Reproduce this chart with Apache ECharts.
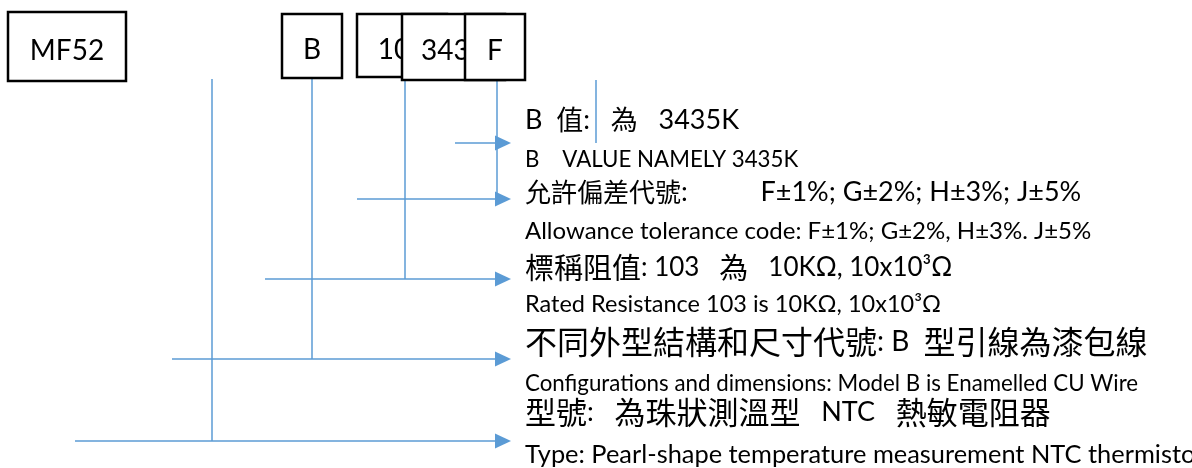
<!DOCTYPE html>
<html>
<head>
<meta charset="utf-8">
<title>MF52 NTC part number</title>
<script src="https://cdn.jsdelivr.net/npm/echarts@6/dist/echarts.min.js"></script>
<style>
  html, body { margin: 0; padding: 0; background: #fff; }
  #main { width: 1192px; height: 468px; }
</style>
</head>
<body>
<div id="main"></div>
<script>
// code boxes along the top (diagram units = axis units)
const boxLabels = ['MF52', 'B', '103', '3435', 'F'];
const boxLeft = [8, 282, 357, 402, 465];
const boxRight = [126, 342, 447, 505, 525];
const boxTop = [12, 14, 14, 14, 14];
const boxBottom = [81, 78, 77, 80, 80];

// vertical leaders dropping from the boxes
const leaderX = [212, 312, 405, 497, 596];
const leaderTop = [79, 78, 80, 80, 80];
const leaderBottom = [441, 359, 279, 199, 143];

// horizontal arrows pointing at the descriptions
const arrowY = [143, 199, 279, 359, 441];
const arrowStart = [455, 357, 265, 172, 75];
const arrowEnd = [511, 511, 511, 511, 511];

// description rows
const rowText = [
  'B  值:   為   3435K',
  'B    VALUE NAMELY 3435K',
  '允許偏差代號:　　   F±1%; G±2%; H±3%; J±5%',
  'Allowance tolerance code: F±1%; G±2%, H±3%. J±5%',
  '標稱阻值: 103   為   10KΩ, 10x10³Ω',
  'Rated Resistance 103 is 10KΩ, 10x10³Ω',
  '不同外型結構和尺寸代號: B  型引線為漆包線',
  'Configurations and dimensions: Model B is Enamelled CU Wire',
  '型號:   為珠狀測溫型   NTC   熱敏電阻器',
  'Type: Pearl-shape temperature measurement NTC thermistor'
];
const rowY = [120, 160, 192, 231, 268, 304, 342, 384, 412, 455];
const rowCjkSize = [27, 22.3, 26, 24, 29, 23.5, 32, 22.3, 31, 25.4];
const rowLatinSize = [27, 22.3, 27, 24, 26, 23.5, 28, 22.3, 27, 25.4];
const rowX = 525;

const BLUE = '#5b9bd5';
const LATIN = 'Lato, "Noto Sans", sans-serif';
const CJK = '"Noto Sans CJK TC", "Noto Sans CJK SC", sans-serif';
const CJK_RE = /[\u3000-\u303f\u3400-\u9fff\uff00-\uffef]/;

// wrap runs of CJK / latin characters into rich text tokens
function toRich(str) {
  let out = '', run = '', kind = null;
  for (const ch of str) {
    const k = CJK_RE.test(ch) ? 'c' : 'l';
    if (kind !== null && k !== kind) {
      out += '{' + kind + '|' + run + '}';
      run = '';
    }
    kind = k;
    run += ch;
  }
  if (run) out += '{' + kind + '|' + run + '}';
  return out;
}

const chart = echarts.init(document.getElementById('main'), null, { renderer: 'canvas' });

const option = {
  animation: false,
  grid: { left: 0, right: 0, top: 0, bottom: 0 },
  xAxis: { type: 'value', min: 0, max: 1192, show: false },
  yAxis: { type: 'value', min: 0, max: 468, inverse: true, show: false },
  series: [
    {
      // leaders
      type: 'custom',
      silent: true,
      data: leaderX.map((x, i) => [x, leaderTop[i], leaderBottom[i]]),
      renderItem: (params, api) => {
        const a = api.coord([api.value(0), api.value(1)]);
        const b = api.coord([api.value(0), api.value(2)]);
        return {
          type: 'line',
          shape: { x1: a[0], y1: a[1], x2: b[0], y2: b[1] },
          style: { stroke: BLUE, lineWidth: 1.5 }
        };
      }
    },
    {
      // arrows
      type: 'custom',
      silent: true,
      data: arrowY.map((y, i) => [arrowStart[i], y, arrowEnd[i]]),
      renderItem: (params, api) => {
        const a = api.coord([api.value(0), api.value(1)]);
        const b = api.coord([api.value(2), api.value(1)]);
        const len = 16, half = 7.5;
        return {
          type: 'group',
          children: [
            {
              type: 'line',
              shape: { x1: a[0], y1: a[1], x2: b[0] - len + 1, y2: b[1] },
              style: { stroke: BLUE, lineWidth: 1.5 }
            },
            {
              type: 'polygon',
              shape: { points: [[b[0], b[1]], [b[0] - len, b[1] - half], [b[0] - len, b[1] + half]] },
              style: { fill: BLUE }
            }
          ]
        };
      }
    },
    {
      // code boxes
      type: 'custom',
      silent: true,
      data: boxLabels.map((t, i) => [boxLeft[i], boxTop[i], boxRight[i], boxBottom[i], i]),
      renderItem: (params, api) => {
        const p0 = api.coord([api.value(0), api.value(1)]);
        const p1 = api.coord([api.value(2), api.value(3)]);
        const label = boxLabels[api.value(4)];
        return {
          type: 'group',
          children: [
            {
              type: 'rect',
              shape: { x: p0[0], y: p0[1], width: p1[0] - p0[0], height: p1[1] - p0[1] },
              style: { fill: '#fff', stroke: '#000', lineWidth: 2.5 }
            },
            {
              type: 'text',
              style: {
                text: label,
                x: (p0[0] + p1[0]) / 2,
                y: (p0[1] + p1[1]) / 2 + 4,
                fill: '#000',
                fontSize: 28,
                fontFamily: LATIN,
                align: 'center',
                verticalAlign: 'middle'
              }
            }
          ]
        };
      }
    },
    {
      // description text
      type: 'custom',
      silent: true,
      data: rowText.map((t, i) => [rowX, rowY[i], i]),
      renderItem: (params, api) => {
        const p = api.coord([api.value(0), api.value(1)]);
        const i = api.value(2);
        return {
          type: 'text',
          style: {
            text: toRich(rowText[i]),
            x: p[0],
            y: p[1],
            fill: '#000',
            align: 'left',
            verticalAlign: 'middle',
            rich: {
              c: { fontSize: rowCjkSize[i], fontFamily: CJK, fill: '#000', verticalAlign: 'middle' },
              l: { fontSize: rowLatinSize[i], fontFamily: LATIN, fill: '#000', verticalAlign: 'middle' }
            }
          }
        };
      }
    }
  ]
};

chart.setOption(option);
</script>
</body>
</html>
